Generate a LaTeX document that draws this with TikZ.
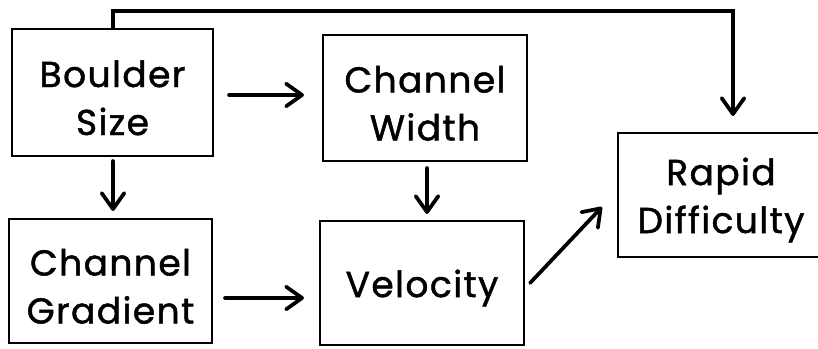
\documentclass[tikz,border=0pt]{standalone}
\usepackage{fontspec}
\setmainfont[LetterSpace=4,FakeBold=1.3]{Poppins}
\usetikzlibrary{arrows.meta,calc}
\newcommand\topstrut{\rule{0pt}{28pt}}
\begin{document}
\begin{tikzpicture}[x=0.75pt,y=-0.75pt,
  box/.style={draw,line width=1.6pt,rectangle,align=center,inner sep=0pt,
    font=\fontsize{27}{36}\selectfont},
  arr/.style={line width=2.8pt,line cap=round,
    -{Straight Barb[length=12pt,width=17pt,line cap=round,line join=round]}}]
\useasboundingbox[fill=white] (0,0) rectangle (818,349);
\node[box,minimum width=201*0.75pt,minimum height=127*0.75pt] (boulder) at (112.5,92.5) {\topstrut Boulder\\Size};
\node[box,minimum width=204*0.75pt,minimum height=126*0.75pt] (width) at (425,98) {\topstrut Channel\\Width};
\node[box,minimum width=203*0.75pt,minimum height=124*0.75pt] (gradient) at (110.5,281) {\topstrut Channel\\Gradient};
\node[box,minimum width=204*0.75pt,minimum height=124*0.75pt] (velocity) at (422,283) {\topstrut Velocity};
\node[box,minimum width=206*0.75pt,minimum height=124*0.75pt,text width=200*0.75pt] (rapid) at (721,195) {\topstrut Rapid\\Difficulty};
\coordinate (topleft) at ($(boulder.north)+(0.5,-17)$);
\coordinate (topright) at ($(rapid.north)+(12,-121)$);
\draw[arr] (boulder.north) ++(0.5,0) -- (topleft) -- (topright) -- ($(rapid.north)+(12,-16)$);
\draw[arr] ($(boulder.east)+(15,2.5)$) -- ($(width.west)+(-18,-3)$);
\draw[arr] ($(gradient.east)+(12,17)$) -- ($(velocity.west)+(-15,15)$);
\draw[arr] ($(boulder.south)+(0.5,4)$) -- ($(gradient.north)+(2.5,-7)$);
\draw[arr] ($(width.south)+(2,6)$) -- ($(velocity.north)+(5,-6)$);
\draw[arr] ($(velocity.east)+(5,0)$) -- ($(rapid.west)+(-15,12)$);
\end{tikzpicture}
\end{document}
